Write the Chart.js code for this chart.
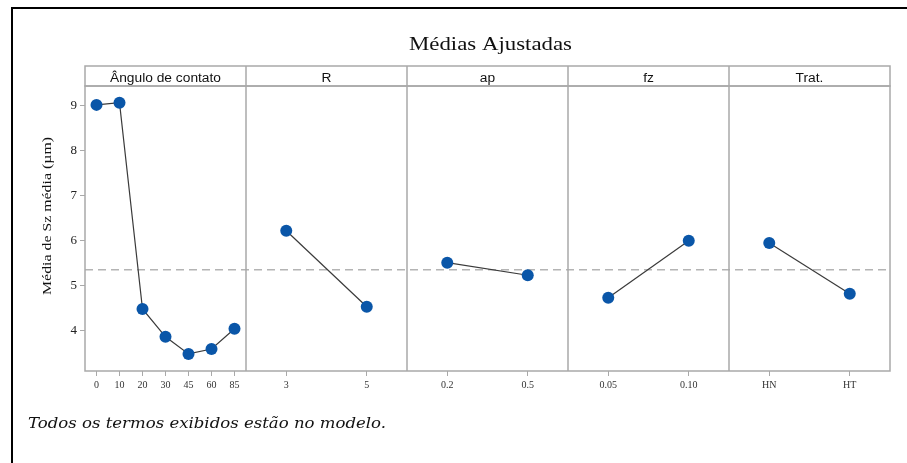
<!DOCTYPE html>
<html>
<head>
<meta charset="utf-8">
<script src="https://cdn.jsdelivr.net/npm/chart.js@4.4.1/dist/chart.umd.min.js"></script>
<style>
  html, body { margin: 0; padding: 0; background: #fff; }
  #wrap { position: relative; width: 907px; height: 463px; }
</style>
</head>
<body>
<div id="wrap"><canvas id="c"></canvas></div>
<script>
// ---- Data ----
const panelTitles = ['Ângulo de contato', 'R', 'ap', 'fz', 'Trat.'];
const angCats  = ['0', '10', '20', '30', '45', '60', '85'];
const angVals  = [9.02, 9.07, 4.48, 3.86, 3.48, 3.59, 4.04];
const rCats    = ['3', '5'];
const rVals    = [6.22, 4.53];
const apCats   = ['0.2', '0.5'];
const apVals   = [5.51, 5.23];
const fzCats   = ['0.05', '0.10'];
const fzVals   = [4.73, 6.00];
const tratCats = ['HN', 'HT'];
const tratVals = [5.95, 4.82];
const refMean  = 5.35;
const yTicks   = [4, 5, 6, 7, 8, 9];
const chartTitle = 'Médias Ajustadas';
const yTitle = 'Média de Sz média (µm)';
const footnote = 'Todos os termos exibidos estão no modelo.';

const panels = [
  { id: 'x0', cats: angCats,  vals: angVals },
  { id: 'x1', cats: rCats,    vals: rVals },
  { id: 'x2', cats: apCats,   vals: apVals },
  { id: 'x3', cats: fzCats,   vals: fzVals },
  { id: 'x4', cats: tratCats, vals: tratVals }
];

const FRAME = '#a9a9a9';
const HEADER_TOP = 66;

const datasets = panels.map(p => ({
  data: p.vals,
  xAxisID: p.id,
  yAxisID: 'y',
  borderColor: '#3a3a3a',
  borderWidth: 1.2,
  pointRadius: 6,
  pointHoverRadius: 6,
  pointBackgroundColor: '#0a56a8',
  pointBorderColor: '#0a56a8',
  pointBorderWidth: 0,
  tension: 0
}));

const scales = {
  y: {
    type: 'linear',
    position: 'left',
    min: 3.1,
    max: 9.44,
    afterBuildTicks: s => { s.ticks = yTicks.map(v => ({ value: v })); },
    afterFit: s => { s.width = 85; },
    grid: { drawOnChartArea: false, drawTicks: true, tickLength: 5, color: FRAME },
    border: { display: false },
    ticks: { font: { family: 'Liberation Serif', size: 13 }, color: '#222', padding: 3 }
  }
};
panels.forEach(p => {
  scales[p.id] = {
    type: 'category',
    labels: p.cats,
    position: 'bottom',
    stack: 'panels',
    stackWeight: 1,
    offset: true,
    afterFit: s => { s.height = 30; },
    grid: { drawOnChartArea: false, drawTicks: true, tickLength: 5, color: FRAME, offset: false },
    border: { display: false },
    ticks: { font: { family: 'Liberation Serif', size: 10 }, color: '#333', padding: 3, maxRotation: 0, autoSkip: false }
  };
});

function scaledText(ctx, text, x, y, font, sx, align, baseline) {
  ctx.save();
  ctx.font = font;
  ctx.textAlign = align;
  ctx.textBaseline = baseline;
  ctx.translate(x, y);
  ctx.scale(sx, 1);
  ctx.fillText(text, 0, 0);
  ctx.restore();
}
function widthOf(ctx, text, font) { ctx.save(); ctx.font = font; const w = ctx.measureText(text).width; ctx.restore(); return w; }

const deco = {
  id: 'deco',
  beforeDatasetsDraw(chart) {
    const { ctx, chartArea: a, scales: sc } = chart;
    ctx.save();
    // outer document border (left + top)
    ctx.fillStyle = '#000';
    ctx.fillRect(11, 7, 907 - 11, 2);
    ctx.fillRect(11, 7, 2, 463 - 7);
    // dashed reference mean
    const ym = sc.y.getPixelForValue(refMean);
    ctx.strokeStyle = '#b4b4b4';
    ctx.lineWidth = 1.5;
    ctx.setLineDash([8, 5]);
    ctx.beginPath(); ctx.moveTo(a.left, ym); ctx.lineTo(a.right, ym); ctx.stroke();
    ctx.setLineDash([]);
    // frames
    ctx.strokeStyle = FRAME;
    ctx.lineWidth = 1.5;
    ctx.strokeRect(a.left, HEADER_TOP, a.right - a.left, a.top - HEADER_TOP);
    ctx.strokeRect(a.left, a.top, a.right - a.left, a.bottom - a.top);
    panels.forEach((p, i) => {
      if (i === panels.length - 1) return;
      const xr = sc[p.id].right;
      ctx.beginPath(); ctx.moveTo(xr, HEADER_TOP); ctx.lineTo(xr, a.bottom); ctx.stroke();
    });
    ctx.restore();
  },
  afterDraw(chart) {
    const { ctx, chartArea: a, scales: sc } = chart;
    ctx.save();
    ctx.fillStyle = '#111';
    // title
    const tFont = '18px "Liberation Serif"';
    scaledText(ctx, chartTitle, 490.5, 50, tFont, 163 / widthOf(ctx, chartTitle, tFont), 'center', 'alphabetic');
    // headers
    const hFont = '12.5px "Liberation Sans"';
    const hs = 111 / widthOf(ctx, panelTitles[0], hFont);
    panels.forEach((p, i) => {
      const s = sc[p.id];
      scaledText(ctx, panelTitles[i], (s.left + s.right) / 2, 81.5, hFont, hs, 'center', 'alphabetic');
    });
    // y title (rotated)
    const yFont = '13px "Liberation Serif"';
    const ys = 158 / widthOf(ctx, yTitle, yFont);
    ctx.save();
    ctx.translate(48, 216);
    ctx.rotate(-Math.PI / 2);
    scaledText(ctx, yTitle, 0, 0, yFont, ys, 'center', 'middle');
    ctx.restore();
    // footnote
    const fFont = 'italic 15px "DejaVu Serif"';
    scaledText(ctx, footnote, 28, 428, fFont, 358 / widthOf(ctx, footnote, fFont), 'left', 'alphabetic');
    ctx.restore();
  }
};

new Chart(document.getElementById('c'), {
  type: 'line',
  data: { datasets },
  options: {
    responsive: true,
    maintainAspectRatio: false,
    animation: false,
    layout: { padding: { top: 86, right: 17, bottom: 62, left: 0 } },
    plugins: { legend: { display: false }, title: { display: false }, tooltip: { enabled: false } },
    scales
  },
  plugins: [deco]
});
</script>
</body>
</html>
